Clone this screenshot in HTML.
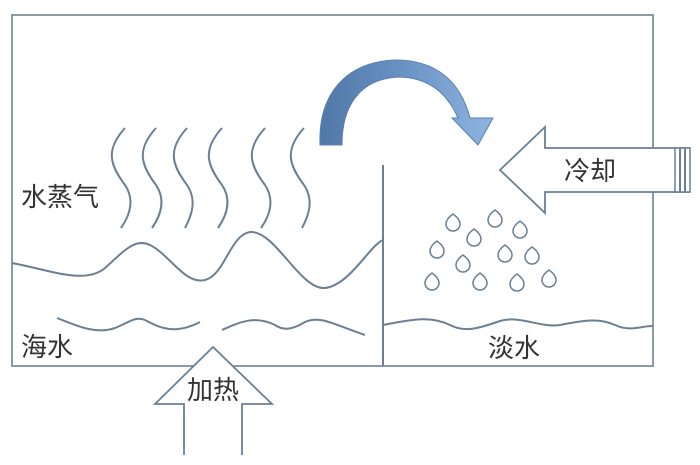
<!DOCTYPE html>
<html><head><meta charset="utf-8"><style>
html,body{margin:0;padding:0;background:#fff;}
svg{display:block;}
text{font-family:"Liberation Sans","Noto Sans CJK SC",sans-serif;fill:#333;font-size:26px;}
</style></head><body>
<svg width="700" height="465" viewBox="0 0 700 465" xmlns="http://www.w3.org/2000/svg">
<defs>
<linearGradient id="g" x1="0" x2="1" y1="0" y2="0">
<stop offset="0" stop-color="#4f78a8"/><stop offset="0.5" stop-color="#6b93c4"/><stop offset="1" stop-color="#8fb4e0"/>
</linearGradient>
</defs>
<g fill="none" stroke="#6b7f95" stroke-width="2">
<rect x="12" y="15" width="641" height="351" stroke="#8a9aa8"/>
<line x1="383" y1="165" x2="383" y2="366"/>
<path d="M125,128 C105,150 110,165 125,185 C135,200 130,215 121,228"/>
<path d="M156,128 C136,150 141,165 156,185 C166,200 161,215 152,228"/>
<path d="M187,128 C167,150 172,165 187,185 C197,200 192,215 185,228"/>
<path d="M222,128 C202,150 207,165 222,185 C232,200 227,215 218,228"/>
<path d="M265,128 C245,150 250,165 265,185 C275,200 270,215 261,228"/>
<path d="M304,128 C284,150 289,165 304,185 C314,200 309,215 302,228"/>
<path d="M12,263 C50,270 85,285 105,268 C125,250 135,238 150,245 C170,255 185,285 205,280 C225,275 230,235 250,232 C275,230 300,290 325,288 C350,285 370,245 383,240"/>
<path d="M57,318 C75,325 95,335 115,328 C130,322 135,316 145,320 C160,328 175,335 200,322"/>
<path d="M222,330 C240,322 255,315 275,325 C285,332 295,328 305,322 C320,315 335,325 365,335"/>
<path d="M383,325 C410,320 430,315 450,325 C465,333 480,328 500,321 C520,315 540,328 560,325 C585,320 600,318 615,325 C630,332 640,326 653,326"/>
<g stroke-width="1.5">
<path d="M453,214 Q446,219 446,224 A7,7 0 0 0 460,224 Q460,219 453,214Z"/>
<path d="M495,210 Q488,215 488,220 A7,7 0 0 0 502,220 Q502,215 495,210Z"/>
<path d="M520,221 Q513,226 513,231 A7,7 0 0 0 527,231 Q527,226 520,221Z"/>
<path d="M474,229 Q467,234 467,239 A7,7 0 0 0 481,239 Q481,234 474,229Z"/>
<path d="M437,241 Q430,246 430,251 A7,7 0 0 0 444,251 Q444,246 437,241Z"/>
<path d="M505,245 Q498,250 498,255 A7,7 0 0 0 512,255 Q512,250 505,245Z"/>
<path d="M532,247 Q525,252 525,257 A7,7 0 0 0 539,257 Q539,252 532,247Z"/>
<path d="M463,255 Q456,260 456,265 A7,7 0 0 0 470,265 Q470,260 463,255Z"/>
<path d="M432,273 Q425,278 425,283 A7,7 0 0 0 439,283 Q439,278 432,273Z"/>
<path d="M480,273 Q473,278 473,283 A7,7 0 0 0 487,283 Q487,278 480,273Z"/>
<path d="M517,274 Q510,279 510,284 A7,7 0 0 0 524,284 Q524,279 517,274Z"/>
<path d="M549,270 Q542,275 542,280 A7,7 0 0 0 556,280 Q556,275 549,270Z"/>
</g>
<path d="M690,148 L545,148 L545,127 L500,170 L545,213 L545,192 L690,192" fill="#fff" stroke-width="1.8"/>
<rect x="675" y="148" width="15" height="44" fill="#fff" stroke-width="1.5"/>
<line x1="680" y1="148" x2="680" y2="192"/>
<line x1="685" y1="148" x2="685" y2="192"/>
<path d="M184,455 L184,404 L155,404 L213,347 L272,404 L242,404 L242,455" fill="#fff" stroke-width="1.8"/>
</g>
<path d="M320,145 C318,95 345,62 395,60 C435,60 460,80 470,118 L493,118 L478,145 L452,118 L458,118 C448,95 430,78 400,77 C365,78 342,100 342,145 Z" fill="url(#g)" stroke="#5a80b0" stroke-width="1"/>
<text x="21" y="206">水蒸气</text>
<text x="21" y="356">海水</text>
<text x="488" y="357">淡水</text>
<text x="564" y="180">冷却</text>
<text x="187" y="399">加热</text>
</svg>
</body></html>
